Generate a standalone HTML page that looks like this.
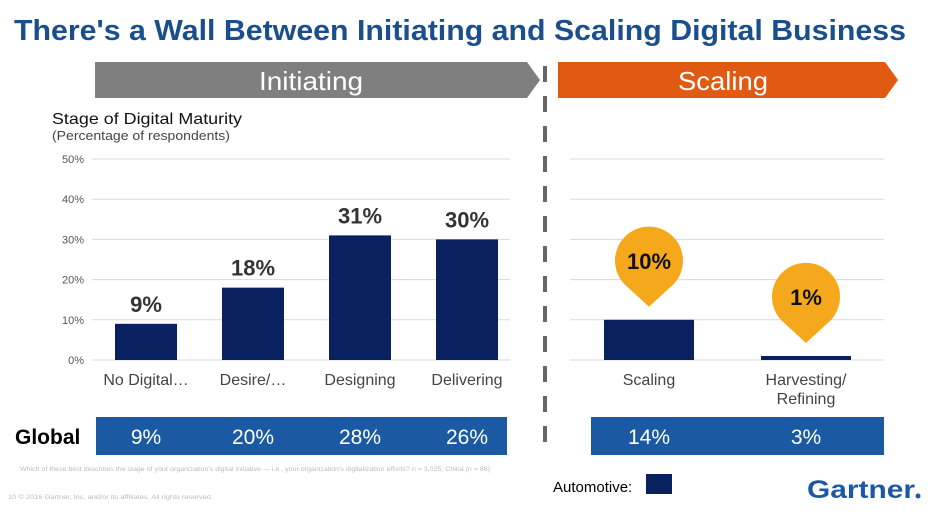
<!DOCTYPE html>
<html><head><meta charset="utf-8"><style>
body{margin:0;background:#fff;}
svg{display:block;font-family:"Liberation Sans",Arial,sans-serif;}
</style></head><body>
<svg id="c" width="931" height="515" viewBox="0 0 931 515">
<text x="14" y="40" font-size="29" font-weight="bold" fill="#1b4f8c" textLength="892" lengthAdjust="spacingAndGlyphs">There's a Wall Between Initiating and Scaling Digital Business</text>
<polygon points="95,62 527,62 540,80 527,98 95,98" fill="#7f7f7f"/>
<text x="311" y="90" font-size="26" fill="#fff" text-anchor="middle" textLength="104" lengthAdjust="spacingAndGlyphs">Initiating</text>
<polygon points="558,62 885,62 898,80 885,98 558,98" fill="#e05a12"/>
<text x="723" y="90" font-size="26" fill="#fff" text-anchor="middle" textLength="90" lengthAdjust="spacingAndGlyphs">Scaling</text>
<line x1="545" y1="66" x2="545" y2="452" stroke="#666" stroke-width="4" stroke-dasharray="16,14"/>
<text x="52" y="124" font-size="16" fill="#111" textLength="190" lengthAdjust="spacingAndGlyphs">Stage of Digital Maturity</text>
<text x="52" y="140" font-size="13" fill="#444" textLength="178" lengthAdjust="spacingAndGlyphs">(Percentage of respondents)</text>
<g id="grid"></g><g id="bars"></g>
<text x="15" y="444" font-size="21" font-weight="bold" fill="#000">Global</text>
<rect x="96" y="417" width="411" height="38" fill="#1b5aa3"/>
<rect x="591" y="417" width="293" height="38" fill="#1b5aa3"/>
<g id="glob"></g>
<text x="20" y="471" font-size="6" fill="#bbb" textLength="470" lengthAdjust="spacingAndGlyphs">Which of these best describes the stage of your organization's digital initiative — i.e., your organization's digitalization efforts? n = 3,025; China (n = 86)</text>
<text x="8" y="499" font-size="6" fill="#bbb" textLength="205" lengthAdjust="spacingAndGlyphs">10    © 2016 Gartner, Inc. and/or its affiliates. All rights reserved.</text>
<text x="553" y="492" font-size="15" fill="#000">Automotive:</text>
<rect x="646" y="474" width="26" height="20" fill="#0a2160"/>
<text x="807" y="498" font-size="25" font-weight="bold" fill="#1b5aa3" textLength="108" lengthAdjust="spacingAndGlyphs">Gartner</text>
<circle cx="918" cy="496" r="2.5" fill="#1b5aa3"/>
</svg>
<script>
const categories=["No Digital…","Desire/…","Designing","Delivering","Scaling","Harvesting/|Refining"];
const automotive=[9,18,31,30,10,1];
const globalVals=[9,20,28,26,14,3];
const yTicks=[0,10,20,30,40,50];
const tickLabels=["0%","10%","20%","30%","40%","50%"];
const NS="http://www.w3.org/2000/svg";
const y0=360,yTop=159;
function y(v){return y0-(v/50)*(y0-yTop);}
const centers=[146,253,360,467,649,806];
const widths=[62,62,62,62,90,90];
function mk(t,a,p){const e=document.createElementNS(NS,t);for(const k in a)e.setAttribute(k,a[k]);p.appendChild(e);return e;}
const grid=document.getElementById('grid'),bars=document.getElementById('bars'),glob=document.getElementById('glob');
yTicks.forEach((v,i)=>{
 const l1=mk('line',{x1:92,x2:510,y1:y(v),y2:y(v),stroke:'#d9d9d9','stroke-width':1},grid);
 
 
 const l2=mk('line',{x1:570,x2:884,y1:y(v),y2:y(v),stroke:'#d9d9d9','stroke-width':1},grid);
 
 
 const t=mk('text',{x:84,y:y(v)+4,'font-size':11,fill:'#555','text-anchor':'end'},grid);
 t.textContent=tickLabels[i];
 
 
});
categories.forEach((c,i)=>{
 const cx=centers[i],w=widths[i],v=automotive[i];
 const r=mk('rect',{x:cx-w/2,y:y(v),width:w,height:y0-y(v),fill:'#0a2160'},bars);
 
 
 const lines=c.split('|');
 lines.forEach((ln,j)=>{
  const t=mk('text',{x:cx,y:385+j*19,'font-size':16,fill:'#444','text-anchor':'middle'},bars);
  t.textContent=ln;
  
  
 });
 if(i<4){
  const t=mk('text',{x:cx,y:y(v)-12,'font-size':22,'font-weight':'bold',fill:'#333','text-anchor':'middle'},bars);
  t.textContent=v+'%';
  
  
 }else{
  const tip=y(v)-13,cy=tip-46,R=34;
  const p=mk('path',{d:`M${cx-R*0.72},${cy+R*0.69} A${R},${R} 0 1 1 ${cx+R*0.72},${cy+R*0.69} L${cx},${tip} Z`,fill:'#f6a81c'},bars);
  
  
  const t=mk('text',{x:cx,y:cy+8,'font-size':22,'font-weight':'bold',fill:'#111','text-anchor':'middle'},bars);
  t.textContent=v+'%';
  
  
 }
 const g=mk('text',{x:cx,y:444,'font-size':21,fill:'#fff','text-anchor':'middle'},glob);
 g.textContent=globalVals[i]+'%';
 
 
});
</script>
</body></html>
